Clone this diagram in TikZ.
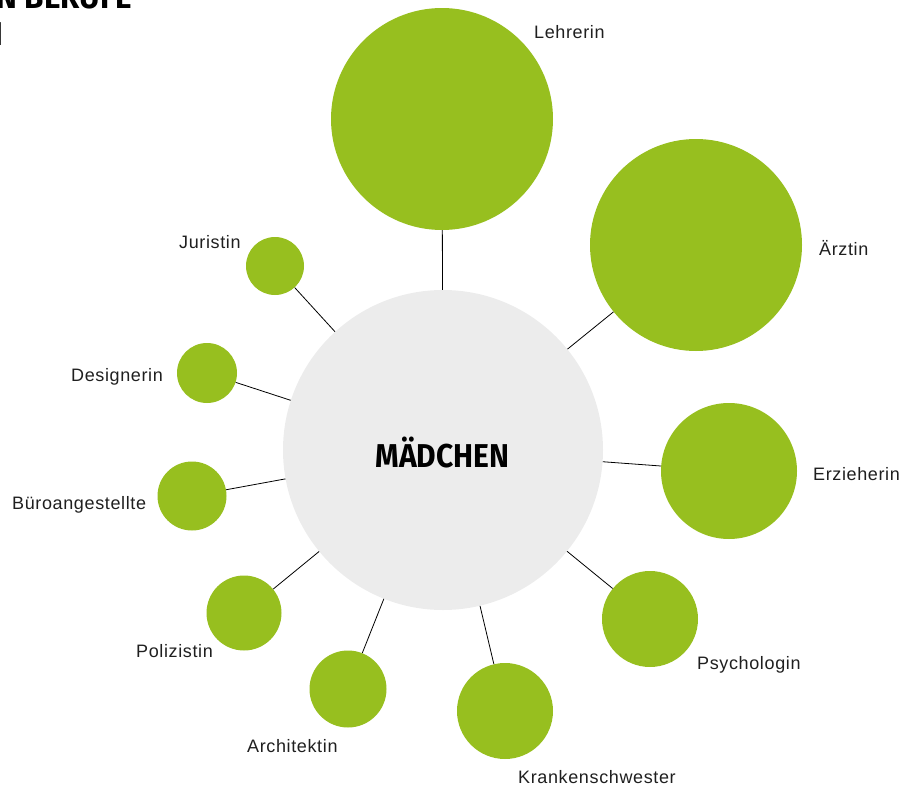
\documentclass[tikz,border=0pt]{standalone}
\usepackage{fontspec}
\setmainfont{Fira Sans}
\newfontfamily\lblfont[LetterSpace=3.5]{Liberation Sans}
\definecolor{leaf}{HTML}{97BF1F}
\definecolor{hub}{HTML}{ECECEC}
\begin{document}
\begin{tikzpicture}[x=1pt,y=-1pt,
  job/.style={circle,fill=leaf,inner sep=0pt,minimum size=#1},
  link/.style={draw=black,line width=0.8pt},
  lbl/.style={font=\lblfont\fontsize{18}{20}\selectfont,text=black!88,inner sep=0pt},
  head/.style={font=\fontsize{33}{36}\bfseries\selectfont,inner sep=0pt}]
\useasboundingbox (0,0) rectangle (903,790);
\clip (0,0) rectangle (903,790);

% heading, running off the top left corner
\node[head,anchor=base east] (t1) at (132,8) {\scalebox{0.95}[1]{DIE BELIEBTESTEN BERUFE}};
\node[head,anchor=base east] (t2) at (3,45) {\scalebox{0.95}[1]{BEI MÄDCHEN}};

% hub
\node[circle,fill=hub,minimum size=320pt,inner sep=0pt] (m) at (443,450) {};
\node[head] (mt) at (442.5,453) {\scalebox{0.91}[1]{MÄDCHEN}};

% professions
\node[job=222pt] (lehr) at (442,119) {};
\node[job=212pt] (arzt) at (696,245) {};
\node[job=136pt] (erz) at (729,471) {};
\node[job=96pt] (psy) at (650,619) {};
\node[job=96pt] (krank) at (505,711) {};
\node[job=77pt] (arch) at (348,689) {};
\node[job=75pt] (pol) at (244,613) {};
\node[job=69pt] (buero) at (192,496) {};
\node[job=60pt] (des) at (207,373) {};
\node[job=58pt] (jur) at (275,266) {};

\foreach \n in {lehr,arzt,erz,psy,krank,arch,pol,buero,des,jur}
  \draw[link] (m) -- (\n);

% labels
\node[lbl,anchor=west] (l1) at (534,32) {Lehrerin};
\node[lbl,anchor=west] (l2) at (819,248) {Ärztin};
\node[lbl,anchor=west] (l3) at (813,474) {Erzieherin};
\node[lbl,anchor=west] (l4) at (697,665) {Psychologin};
\node[lbl,anchor=west] (l5) at (518,777) {Krankenschwester};
\node[lbl,anchor=west] (l6) at (247,746) {Architektin};
\node[lbl,anchor=west] (l7) at (136,651) {Polizistin};
\node[lbl,anchor=west] (l8) at (12,505) {Büroangestellte};
\node[lbl,anchor=west] (l9) at (71,377) {Designerin};
\node[lbl,anchor=west] (l10) at (179,242) {Juristin};
\end{tikzpicture}
\end{document}
